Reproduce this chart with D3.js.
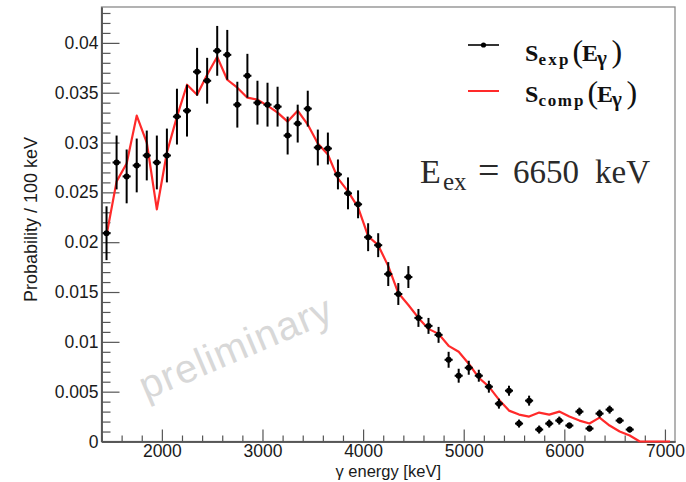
<!DOCTYPE html>
<html>
<head>
<meta charset="utf-8">
<script src="https://cdn.jsdelivr.net/npm/d3@7"></script>
<style>
  html, body { margin: 0; padding: 0; background: #fff; }
  svg { display: block; }
</style>
</head>
<body>
<svg id="chart" width="686" height="482"></svg>
<script>
// Measured spectrum S_exp(Eγ): bin centres [keV], probability per 100 keV, statistical errors
const expEnergy = [1450,1550,1650,1750,1850,1950,2050,2150,2250,2350,2450,2550,2650,2750,2850,2950,3050,3150,3250,3350,3450,3550,3650,3750,3850,3950,4050,4150,4250,4350,4450,4550,4650,4750,4850,4950,5050,5150,5250,5350,5450,5550,5650,5750,5850,5950,6050,6150,6250,6350,6450,6550,6650];
const expValue  = [0.0209,0.0280,0.0266,0.0277,0.0287,0.0280,0.0287,0.0326,0.0332,0.0371,0.0362,0.0392,0.0388,0.0338,0.0367,0.0340,0.0338,0.0336,0.0307,0.0319,0.0334,0.0295,0.0294,0.0268,0.0249,0.0238,0.0205,0.0197,0.0168,0.0148,0.0165,0.0124,0.0116,0.0107,0.0082,0.0066,0.0074,0.0066,0.0055,0.0038,0.0051,0.0018,0.0041,0.0012,0.0018,0.0021,0.0016,0.0030,0.0013,0.0028,0.0032,0.0021,0.0012];
const expError  = [0.0027,0.0027,0.0027,0.0027,0.0025,0.0027,0.0027,0.0028,0.0026,0.0024,0.0023,0.0025,0.0025,0.0023,0.0022,0.0022,0.0022,0.0020,0.0019,0.0019,0.0018,0.0018,0.0016,0.0015,0.0016,0.0014,0.0014,0.0012,0.0012,0.0011,0.0011,0.0009,0.0008,0.0008,0.0008,0.0007,0.0007,0.0006,0.0006,0.0005,0.0005,0.0004,0.0005,0.0004,0.0004,0.0004,0.0003,0.0004,0.0003,0.0004,0.0004,0.0003,0.0003];
const binHalfWidth = 40;

// Computed spectrum S_comp(Eγ)
const compEnergy = [1450,1550,1650,1750,1850,1950,2050,2150,2250,2350,2450,2550,2650,2750,2850,2950,3050,3150,3250,3350,3450,3550,3650,3750,3850,3950,4050,4150,4250,4350,4450,4550,4650,4750,4850,4950,5050,5150,5250,5350,5450,5550,5650,5750,5850,5950,6050,6150,6250,6350,6450,6550,6650,6750,6850,6950,7050];
const compValue  = [0.0207,0.0261,0.0279,0.0327,0.0300,0.0233,0.0290,0.0326,0.0358,0.0348,0.0368,0.0386,0.0363,0.0355,0.0345,0.0343,0.0337,0.0330,0.0321,0.0332,0.0318,0.0299,0.0288,0.0264,0.0251,0.0235,0.0206,0.0197,0.0176,0.0149,0.0137,0.0124,0.0113,0.0108,0.0096,0.0090,0.0078,0.0064,0.0055,0.0042,0.0031,0.0027,0.0025,0.0029,0.0027,0.0030,0.0025,0.0021,0.0018,0.0024,0.0016,0.0010,0.0006,0,0,0,0];

// Axis ranges and tick labels
const xDomain = [1400, 7100];
const yDomain = [0, 0.0436];
const xTickValues = [2000,3000,4000,5000,6000,7000];
const xTickLabels = ["2000","3000","4000","5000","6000","7000"];
const yTickValues = [0,0.005,0.01,0.015,0.02,0.025,0.03,0.035,0.04];
const yTickLabels = ["0","0.005","0.01","0.015","0.02","0.025","0.03","0.035","0.04"];
const xTitle = "γ energy [keV]";
const yTitle = "Probability / 100 keV";

const svg = d3.select("#chart");
const plot = { left: 101.5, right: 675, top: 7, bottom: 441.5 };

const x = d3.scaleLinear().domain(xDomain).range([plot.left, plot.right]);
const y = d3.scaleLinear().domain(yDomain).range([plot.bottom, plot.top]);

const axisColor = "#555";
const sans = "'Liberation Sans', Arial, Helvetica, sans-serif";
const serif = "'Liberation Serif', 'Times New Roman', serif";

// Frame (top and right sides drawn lighter)
svg.append("rect")
  .attr("x", plot.left).attr("y", plot.top)
  .attr("width", plot.right - plot.left).attr("height", plot.bottom - plot.top)
  .attr("fill", "none").attr("stroke", "#8a8a8a").attr("stroke-width", 1.3);

// Watermark
svg.append("text")
  .attr("transform", "translate(241,360) rotate(-23)")
  .attr("text-anchor", "middle")
  .attr("font-family", sans)
  .attr("font-size", 40)
  .attr("letter-spacing", 1)
  .attr("fill", "#d8d8d8")
  .text("preliminary");

// X axis: ticks point into the frame
const xMinor = d3.range(xDomain[0], xDomain[1] + 1, 200).filter(v => v % 1000 !== 0);
const xAxisMajor = d3.axisBottom(x).tickValues(xTickValues)
  .tickFormat((d, i) => xTickLabels[i]).tickSizeInner(-12).tickSizeOuter(0).tickPadding(3);
const xAxisMinor = d3.axisBottom(x).tickValues(xMinor)
  .tickFormat("").tickSizeInner(-6).tickSizeOuter(0);

const gxMinor = svg.append("g").attr("transform", `translate(0,${plot.bottom})`).call(xAxisMinor);
const gx = svg.append("g").attr("transform", `translate(0,${plot.bottom})`).call(xAxisMajor);
[gx, gxMinor].forEach(g => {
  g.select(".domain").attr("stroke", axisColor).attr("stroke-width", 1.5);
  g.selectAll(".tick line").attr("stroke", axisColor).attr("stroke-width", 1.2);
});
gx.selectAll(".tick text")
  .attr("font-family", sans).attr("font-size", 17.5).attr("fill", "#1a1a1a");

// Y axis: ticks point into the frame
const yMinor = d3.range(0, 0.0436, 0.001).map(v => +v.toFixed(3)).filter(v => Math.round(v * 1000) % 5 !== 0);
const yAxisMajor = d3.axisLeft(y).tickValues(yTickValues)
  .tickFormat((d, i) => yTickLabels[i]).tickSizeInner(-18).tickSizeOuter(0).tickPadding(3);
const yAxisMinor = d3.axisLeft(y).tickValues(yMinor)
  .tickFormat("").tickSizeInner(-9).tickSizeOuter(0);

const gyMinor = svg.append("g").attr("transform", `translate(${plot.left},0)`).call(yAxisMinor);
const gy = svg.append("g").attr("transform", `translate(${plot.left},0)`).call(yAxisMajor);
[gy, gyMinor].forEach(g => {
  g.select(".domain").attr("stroke", axisColor).attr("stroke-width", 1.5);
  g.selectAll(".tick line").attr("stroke", axisColor).attr("stroke-width", 1.2);
});
gy.selectAll(".tick text")
  .attr("font-family", sans).attr("font-size", 17.5).attr("fill", "#1a1a1a");

// Axis titles
svg.append("text")
  .attr("x", (plot.left + plot.right) / 2).attr("y", 476.5)
  .attr("text-anchor", "middle")
  .attr("font-family", sans).attr("font-size", 16.5).attr("fill", "#1a1a1a")
  .text(xTitle);
svg.append("text")
  .attr("transform", "translate(37,302) rotate(-90)")
  .attr("text-anchor", "start")
  .attr("font-family", sans).attr("font-size", 18).attr("fill", "#1a1a1a")
  .text(yTitle);

// Computed curve
const comp = compEnergy.map((e, i) => ({ e, v: compValue[i] }));
svg.append("path")
  .datum(comp)
  .attr("fill", "none")
  .attr("stroke", "#ff2a2a")
  .attr("stroke-width", 2.2)
  .attr("stroke-linejoin", "round")
  .attr("d", d3.line().x(d => x(d.e)).y(d => y(d.v)));

// Measured points with error bars
const exp = expEnergy.map((e, i) => ({ e, v: expValue[i], err: expError[i] }));
const pts = svg.append("g");
pts.selectAll("line.ey").data(exp).join("line")
  .attr("class", "ey")
  .attr("x1", d => x(d.e)).attr("x2", d => x(d.e))
  .attr("y1", d => y(d.v - d.err)).attr("y2", d => y(d.v + d.err))
  .attr("stroke", "#000").attr("stroke-width", 2);
pts.selectAll("line.ex").data(exp).join("line")
  .attr("class", "ex")
  .attr("x1", d => x(d.e - binHalfWidth)).attr("x2", d => x(d.e + binHalfWidth))
  .attr("y1", d => y(d.v)).attr("y2", d => y(d.v))
  .attr("stroke", "#000").attr("stroke-width", 2);
pts.selectAll("circle").data(exp).join("circle")
  .attr("cx", d => x(d.e)).attr("cy", d => y(d.v)).attr("r", 3)
  .attr("fill", "#000");

// Legend
const legend = svg.append("g");
legend.append("line").attr("x1", 468).attr("x2", 499).attr("y1", 45).attr("y2", 45)
  .attr("stroke", "#000").attr("stroke-width", 1.6);
legend.append("circle").attr("cx", 483.5).attr("cy", 45).attr("r", 2.6).attr("fill", "#000");
legend.append("line").attr("x1", 468).attr("x2", 499).attr("y1", 91).attr("y2", 91)
  .attr("stroke", "#ff2a2a").attr("stroke-width", 2);

function piece(g, px, py, size, weight, str, spacing) {
  g.append("text")
    .attr("x", px).attr("y", py)
    .attr("font-family", serif).attr("font-size", size).attr("font-weight", weight)
    .attr("letter-spacing", spacing || 0)
    .attr("fill", "#111")
    .text(str);
}
// S_exp(E_γ)
piece(legend, 525, 61, 24, "bold", "S");
piece(legend, 538.5, 65, 17, "bold", "exp", 2.2);
piece(legend, 572.5, 62, 32, "normal", "(");
piece(legend, 582, 61, 24, "bold", "E");
piece(legend, 597, 65, 21, "bold", "γ");
piece(legend, 611.5, 62, 32, "normal", ")");
// S_comp(E_γ)
piece(legend, 525, 102, 24, "bold", "S");
piece(legend, 538.5, 106, 17, "bold", "com", 1.6);
piece(legend, 574, 106, 17, "bold", "p");
piece(legend, 587.5, 103, 32, "normal", "(");
piece(legend, 597, 102, 24, "bold", "E");
piece(legend, 612, 106, 21, "bold", "γ");
piece(legend, 626.5, 103, 32, "normal", ")");

// Excitation energy label
const ex = svg.append("g");
function piece2(px, py, size, str) {
  ex.append("text").attr("x", px).attr("y", py)
    .attr("font-family", serif).attr("font-size", size).attr("fill", "#2a2a2a").text(str);
}
piece2(420, 183, 34, "E");
piece2(443, 190, 25, "ex");
piece2(478, 183, 38, "=");
piece2(513, 183, 33, "6650");
piece2(595, 183, 33, "keV");
</script>
</body>
</html>
